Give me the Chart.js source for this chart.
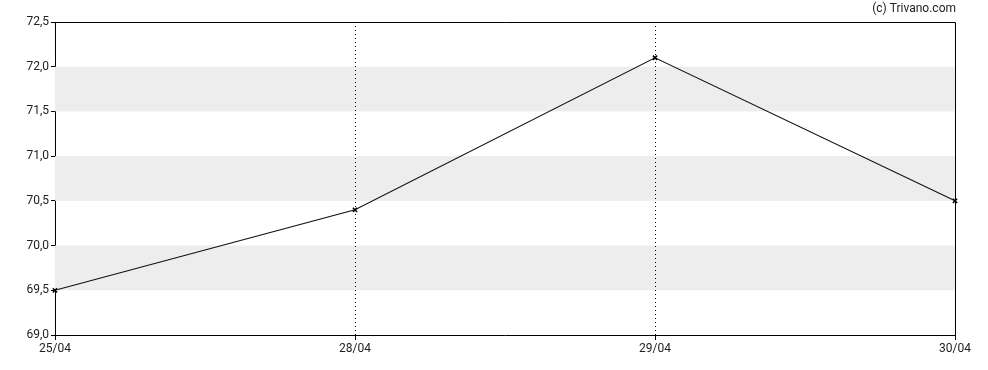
<!DOCTYPE html>
<html>
<head>
<meta charset="utf-8">
<script src="https://cdn.jsdelivr.net/npm/chart.js@4/dist/chart.umd.min.js"></script>
<style>
  html, body { margin: 0; padding: 0; background: #fff; }
  #wrap { width: 988px; height: 370px; }
</style>
</head>
<body>
<div id="wrap"><canvas id="koers"></canvas></div>
<script>
// data
const dates = ['25/04', '28/04', '29/04', '30/04'];
const koers = [69.5, 70.4, 72.1, 70.5];
const yMin = 69.0;
const yMax = 72.5;
const yStep = 0.5;
// grijze banden (ondergrens van elke band)
const bandStarts = [69.5, 70.5, 71.5];

const fmt = v => v.toFixed(1).replace('.', ',');

// achtergrond: banden, gestippelde lijnen, kader, copyright
const decor = {
  id: 'decor',
  beforeDatasetsDraw(chart) {
    const { ctx, chartArea: a, scales: { x, y } } = chart;
    ctx.save();
    ctx.fillStyle = '#ededed';
    bandStarts.forEach(b => {
      const top = y.getPixelForValue(b + yStep);
      const bot = y.getPixelForValue(b);
      ctx.fillRect(a.left, top, a.right - a.left, bot - top);
    });
    ctx.strokeStyle = '#000';
    ctx.lineWidth = 1;
    ctx.setLineDash([1, 3]);
    for (let i = 1; i < dates.length - 1; i++) {
      const px = Math.round(x.getPixelForValue(i)) + 0.5;
      ctx.beginPath();
      ctx.moveTo(px, a.top);
      ctx.lineTo(px, a.bottom);
      ctx.stroke();
    }
    ctx.setLineDash([]);
    ctx.beginPath();
    ctx.moveTo(a.left, a.top + 0.5);
    ctx.lineTo(a.right + 0.5, a.top + 0.5);
    ctx.lineTo(a.right + 0.5, a.bottom);
    ctx.stroke();
    ctx.fillStyle = '#222';
    ctx.font = '12px Roboto';
    ctx.textAlign = 'right';
    ctx.textBaseline = 'middle';
    ctx.fillText('(c) Trivano.com', a.right + 1, 9);
    ctx.restore();
  }
};

const ctx = document.getElementById('koers').getContext('2d');
new Chart(ctx, {
  type: 'line',
  data: {
    labels: dates,
    datasets: [{
      data: koers,
      borderColor: '#111',
      borderWidth: 1.1,
      tension: 0,
      pointStyle: 'crossRot',
      pointRadius: 3,
      pointBorderColor: '#000',
      pointBorderWidth: 1.5,
      pointHoverRadius: 3,
      fill: false
    }]
  },
  options: {
    responsive: true,
    maintainAspectRatio: false,
    animation: false,
    events: [],
    layout: { padding: { top: 22, right: 33, left: 0, bottom: 0 } },
    plugins: {
      legend: { display: false },
      tooltip: { enabled: false }
    },
    scales: {
      x: {
        offset: false,
        grid: { display: true, drawOnChartArea: false, tickLength: 5, color: '#000' },
        border: { color: '#000', width: 1 },
        ticks: {
          color: '#222',
          font: { family: 'Roboto', size: 12 },
          padding: 2,
          maxRotation: 0,
          autoSkip: false
        },
        afterFit(scale) { scale.height = 35; }
      },
      y: {
        min: yMin,
        max: yMax,
        grid: { display: true, drawOnChartArea: false, tickLength: 4, color: '#000' },
        border: { color: '#000', width: 1 },
        ticks: {
          stepSize: yStep,
          color: '#222',
          font: { family: 'Roboto', size: 12 },
          padding: 2,
          callback: v => fmt(v)
        },
        afterFit(scale) { scale.width = 55; }
      }
    }
  },
  plugins: [decor]
});
</script>
</body>
</html>
